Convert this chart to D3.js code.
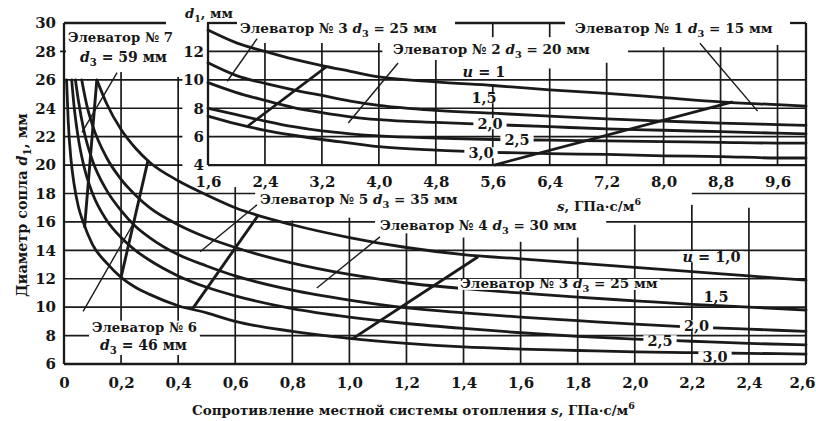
<!DOCTYPE html>
<html><head><meta charset="utf-8">
<script src="https://cdn.jsdelivr.net/npm/d3@7"></script>
<style>
body{margin:0;background:#fff}
svg{display:block;background:#fff}
text{font-family:"DejaVu Serif","Liberation Serif",serif;font-weight:bold;fill:#161616}
</style>
</head><body>
<svg id="c" width="816" height="421"></svg>
<script>
// ---------------- DATA ----------------
// Main chart: s (ГПа·с/м6) vs d1 (мм), one curve per mixing ratio u
const sU10 = [0.115,0.15,0.2,0.25,0.3,0.4,0.5,0.6,0.8,1.0,1.2,1.4,1.6,1.8,2.0,2.2,2.4,2.6];
const dU10 = [26.0,24.3,22.5,21.2,20.2,18.9,17.9,17.0,15.8,14.9,14.2,13.7,13.4,13.1,12.8,12.5,12.2,11.9];
const sU15 = [0.062,0.08,0.1,0.15,0.2,0.25,0.3,0.4,0.5,0.6,0.8,1.0,1.2,1.4,1.6,1.8,2.0,2.2,2.4,2.6];
const dU15 = [26.0,24.2,22.8,20.5,19.0,17.9,17.0,15.8,14.9,14.2,13.1,12.3,11.7,11.3,11.0,10.7,10.45,10.2,10.0,9.8];
const sU20 = [0.04,0.05,0.07,0.1,0.15,0.2,0.25,0.3,0.4,0.5,0.6,0.8,1.0,1.2,1.4,1.6,1.8,2.0,2.2,2.4,2.6];
const dU20 = [26.0,24.6,22.4,20.3,18.2,16.8,15.7,14.9,13.7,12.9,12.2,11.2,10.5,9.95,9.6,9.3,9.05,8.8,8.6,8.45,8.3];
const sU25 = [0.027,0.035,0.05,0.07,0.1,0.15,0.2,0.25,0.3,0.4,0.5,0.6,0.8,1.0,1.2,1.4,1.6,1.8,2.0,2.2,2.4,2.6];
const dU25 = [26.0,24.2,21.9,19.9,18.0,16.1,14.9,14.0,13.3,12.2,11.4,10.8,9.9,9.3,8.85,8.5,8.2,7.95,7.75,7.6,7.45,7.35];
const sU30 = [0.009,0.015,0.025,0.035,0.05,0.067,0.1,0.15,0.2,0.25,0.3,0.4,0.5,0.6,0.8,1.0,1.2,1.4,1.6,1.8,2.0,2.2,2.4,2.6];
const dU30 = [26.0,23.0,20.3,18.7,17.1,16.0,14.4,13.1,12.1,11.4,10.9,10.1,9.6,9.0,8.3,7.8,7.45,7.2,7.05,6.95,6.85,6.8,6.75,6.7];

// Inset chart (s from 1.6 to 10)
const sIn   = [1.6,2.0,2.4,2.8,3.2,3.6,4.0,4.8,5.6,6.4,7.2,8.0,8.8,9.6,10.0];
const dIn10 = [13.5,12.6,12.0,11.45,11.0,10.6,10.2,9.85,9.6,9.3,9.05,8.75,8.45,8.25,8.15];
const dIn15 = [11.2,10.3,9.75,9.3,8.9,8.5,8.2,7.85,7.65,7.45,7.25,7.1,6.95,6.85,6.8];
const dIn20 = [9.8,9.1,8.55,8.05,7.7,7.4,7.2,7.0,6.85,6.7,6.55,6.45,6.35,6.25,6.2];
const dIn25 = [8.0,7.55,7.1,6.7,6.4,6.2,6.05,5.9,5.8,5.75,5.7,5.65,5.6,5.55,5.55];
const dIn30 = [7.45,6.9,6.45,6.1,5.8,5.55,5.3,5.05,4.9,4.8,4.75,4.65,4.6,4.5,4.5];

// Elevator lines [s,d] end points (thick = working line, thin = pointer)
const elevThickMain  = [[[0.115,26.0],[0.072,15.6]],[[0.294,20.3],[0.200,12.1]],[[0.680,16.45],[0.449,9.85]],[[1.451,13.55],[1.009,7.75]]];
const elevThinMain   = [[[0.186,26.5],[0.063,22.3]],[[0.067,9.7],[0.249,16.1]],[[0.676,17.2],[0.477,13.9]],[[1.107,14.95],[0.886,11.35]]];
const elevThickInset = [[[2.16,6.75],[3.27,10.95]],[[5.62,4.0],[8.97,8.45]]];
const elevThinInset  = [[[1.87,9.9],[2.29,12.9]],[[3.57,6.96],[4.27,11.18]],[[8.51,12.58],[9.32,7.8]]];

// Ticks
const mainXTicks  = [0,0.2,0.4,0.6,0.8,1.0,1.2,1.4,1.6,1.8,2.0,2.2,2.4,2.6];
const mainYTicks  = [6,8,10,12,14,16,18,20,22,24,26,28,30];
const insetXTicks = [1.6,2.4,3.2,4.0,4.8,5.6,6.4,7.2,8.0,8.8,9.6];
const insetYTicks = [4,6,8,10,12];

// ---------------- SCALES ----------------
const svg = d3.select("#c");
const xM = d3.scaleLinear().domain([0,2.6]).range([64,806]);
const yM = d3.scaleLinear().domain([6,30]).range([364,23]);
const xI = d3.scaleLinear().domain([1.6,10]).range([208,806]);
const yI = d3.scaleLinear().domain([4,14]).range([yM(20), yM(30)]);
const INK = "#1a1a1a";

const gGrid = svg.append("g"), gCurve = svg.append("g"), gElev = svg.append("g"),
      gBorder = svg.append("g"), gLab = svg.append("g"), gAx = svg.append("g");

function hseg(g, y, x0, x1, w){ g.append("line").attr("x1",x0).attr("x2",x1).attr("y1",y).attr("y2",y).attr("stroke",INK).attr("stroke-width",w); }
function vseg(g, x, y0, y1, w){ g.append("line").attr("x1",x).attr("x2",x).attr("y1",y0).attr("y2",y1).attr("stroke",INK).attr("stroke-width",w); }

// ---------------- GRID ----------------
const GW = 1.7;
[8,10,12,14].forEach(d => hseg(gGrid, yM(d), xM(0), xM(2.6), GW));
hseg(gGrid, yM(16), xM(0), xM(1.09), GW); hseg(gGrid, yM(16), xM(1.9), xM(2.6), GW);
hseg(gGrid, yM(18), xM(0), xM(0.67), GW); hseg(gGrid, yM(18), xM(2.2), xM(2.6), GW);
[20,22,24,26].forEach(d => hseg(gGrid, yM(d), xM(0), xM(0.415), GW));
hseg(gGrid, yM(28), xM(0)-4, xM(0.02), GW);
const mainVTop = [26.55,26.2,18.45,16.1,16.3,15.2,14.9,14.6,14.9,15.8,17.2,17.0];
mainXTicks.slice(1,13).forEach((s,i) => vseg(gGrid, xM(s), yM(6), yM(mainVTop[i]), GW));
hseg(gGrid, yI(12), xI(1.6), xI(4.05), GW); hseg(gGrid, yI(12), xI(7.5), xI(10), GW);
[6,8,10].forEach(d => hseg(gGrid, yI(d), xI(1.6), xI(10), GW));
const insetVTop = [12.6,12.6,12.6,11.4,9.6,10.8,11.2,12.3,12.3,12.45];
insetXTicks.slice(1).forEach((s,i) => vseg(gGrid, xI(s), yI(4), yI(insetVTop[i]), GW));
vseg(gGrid, xI(5.6), yI(14), yI(13.0), GW);
vseg(gGrid, xI(6.4), yI(14), yI(13.0), GW);

// ---------------- CURVES ----------------
const lineM = d3.line().x(p=>xM(p[0])).y(p=>yM(p[1])).curve(d3.curveMonotoneX);
const lineI = d3.line().x(p=>xI(p[0])).y(p=>yI(p[1])).curve(d3.curveMonotoneX);
const mainCurves = [[sU10,dU10],[sU15,dU15],[sU20,dU20],[sU25,dU25],[sU30,dU30]];
mainCurves.forEach(([s,d]) => gCurve.append("path").attr("d", lineM(s.map((v,i)=>[v,d[i]])))
  .attr("fill","none").attr("stroke",INK).attr("stroke-width",2.8).attr("stroke-linecap","round"));
[dIn10,dIn15,dIn20,dIn25,dIn30].forEach(d => gCurve.append("path").attr("d", lineI(sIn.map((v,i)=>[v,d[i]])))
  .attr("fill","none").attr("stroke",INK).attr("stroke-width",2.8).attr("stroke-linecap","round"));

// ---------------- ELEVATOR LINES ----------------
const straightM = d3.line().x(p=>xM(p[0])).y(p=>yM(p[1]));
const straightI = d3.line().x(p=>xI(p[0])).y(p=>yI(p[1]));
elevThickMain.forEach(p => gElev.append("path").attr("d",straightM(p)).attr("stroke",INK).attr("stroke-width",2.9).attr("fill","none"));
elevThinMain.forEach(p => gElev.append("path").attr("d",straightM(p)).attr("stroke",INK).attr("stroke-width",1.4).attr("fill","none"));
elevThickInset.forEach(p => gElev.append("path").attr("d",straightI(p)).attr("stroke",INK).attr("stroke-width",2.7).attr("fill","none"));
elevThinInset.forEach(p => gElev.append("path").attr("d",straightI(p)).attr("stroke",INK).attr("stroke-width",1.4).attr("fill","none"));

// ---------------- BORDERS ----------------
const BW = 2.3;
vseg(gBorder, xM(0), yM(30), yM(6), BW);
hseg(gBorder, yM(6), xM(0), xM(2.6), BW);
vseg(gBorder, xM(2.6), yM(30), yM(6), BW);
[[64,166],[207,237],[455,565],[790,806]].forEach(([a,b]) => hseg(gBorder, yM(30), a, b, BW));
vseg(gBorder, xI(1.6), yM(30), yI(4), BW);
hseg(gBorder, yI(4), xI(1.6), xI(10), BW);

// ---------------- LABELS ----------------
// builds a text from parts; if opts.fixed, keeps size and centres it, otherwise fits x0..x1
function addText(parent, parts, x0, x1, yc, fs, opts={}) {
  const t = parent.append("text").attr("x", x0).attr("font-size", fs);
  let shift = 0;
  parts.forEach(p => {
    const ts = t.append("tspan").text(p.t);
    if (p.i) ts.attr("font-style","italic");
    if (p.sub) { ts.attr("dy", 4).attr("font-size","0.72em"); shift = 4; }
    else if (p.sup) { ts.attr("dy", -6).attr("font-size","0.7em"); shift = -6; }
    else if (shift) { ts.attr("dy", -shift); shift = 0; }
  });
  let f = fs;
  if (opts.fixed) {
    t.attr("x", (x0+x1)/2).attr("text-anchor","middle");
  } else {
    const w = t.node().getComputedTextLength();
    f = Math.min(fs * (x1 - x0) / w, opts.maxFs || 16);
  }
  t.attr("font-size", f).attr("y", yc + 0.36*f);
  return t;
}
function bg(parent, nodes, padX=2, padY=2) {
  let bx0=1e9, by0=1e9, bx1=-1e9, by1=-1e9;
  nodes.forEach(n => { const b = n.node().getBBox(); bx0=Math.min(bx0,b.x); by0=Math.min(by0,b.y); bx1=Math.max(bx1,b.x+b.width); by1=Math.max(by1,b.y+b.height); });
  parent.insert("rect", ":first-child").attr("x",bx0-padX).attr("y",by0+padY).attr("width",bx1-bx0+2*padX).attr("height",by1-by0-2*padY).attr("fill","#fff");
}
function label(parts, x0, x1, yc, fs, withBg=true, padX=2, padY=3, opts={}) {
  const g = gLab.append("g");
  const t = addText(g, parts, x0, x1, yc, fs, opts);
  if (withBg) bg(g, [t], padX, padY);
  return g;
}
const d3sub = n => [{t:"d",i:true},{t:"3",sub:true},{t:" = "+n+" мм"}];
const elevParts = (k,n) => [{t:"Элеватор № "+k+" "}].concat(d3sub(n));

{ const g = gLab.append("g");
  const a = addText(g, [{t:"Элеватор № 7"}], 68, 173, 37, 14);
  const b = addText(g, d3sub("59"), 80, 167, 57, 14);
  bg(g, [a,b], 2, 2); }
{ const g = gLab.append("g");
  const a = addText(g, [{t:"Элеватор № 6"}], 92, 197, 327, 14);
  const b = addText(g, d3sub("46"), 100, 187, 345, 14);
  bg(g, [a,b], 3, 1); }
label(elevParts(5,"35"), 260, 458, 199, 14);
label(elevParts(4,"30"), 380, 577, 225, 14);
label(elevParts(3,"25"), 460, 658, 283, 14, true, 2, 4);
label(elevParts(3,"25"), 240, 437, 28, 14, false);
label(elevParts(2,"20"), 393, 590, 49, 14);
label(elevParts(1,"15"), 575, 773, 28, 14, false);

const FX = {fixed:true};
label([{t:"u",i:true},{t:" = 1,0"}], 683, 740, 257, 14.5, true, 3, 3, FX);
label([{t:"1,5"}], 705, 727, 297, 14.5, true, 3, 3, FX);
label([{t:"2,0"}], 685, 708, 326, 14.5, true, 4, 3, FX);
label([{t:"2,5"}], 648, 672, 341, 14.5, true, 4, 3, FX);
label([{t:"3,0"}], 703, 727, 357, 14.5, true, 4, 3, FX);
label([{t:"u",i:true},{t:" = 1"}], 465, 503, 72, 14.5, true, 3, 3, FX);
label([{t:"1,5"}], 473, 495, 98, 14.5, true, 3, 3, FX);
label([{t:"2,0"}], 478, 502, 124, 14.5, true, 4, 3, FX);
label([{t:"2,5"}], 505, 529, 140, 14.5, true, 4, 3, FX);
label([{t:"3,0"}], 469, 493, 153, 14.5, true, 4, 3, FX);

label([{t:"d",i:true},{t:"1",sub:true},{t:", мм"}], 185, 233, 13, 14, false);
label([{t:"s",i:true},{t:", ГПа·с/м"},{t:"6",sup:true}], 557, 660, 206, 13, true, 2, 3, {maxFs:13.5});

label([{t:"Сопротивление местной системы отопления "},{t:"s",i:true},{t:", ГПа·с/м"},{t:"6",sup:true}], 192, 635, 410, 13.5, false);
{ const g = gLab.append("g").attr("transform","translate(22,205) rotate(-90)");
  addText(g, [{t:"Диаметр сопла "},{t:"d",i:true},{t:"1",sub:true},{t:", мм"}], -92, 92, 0, 14); }

// ---------------- AXES (tick labels) ----------------
const comma = v => v === 0 ? "0" : d3.format(".1f")(v).replace(".", ",");
function styleAxis(g){ g.select(".domain").remove(); g.selectAll("line").remove();
  g.selectAll("text").attr("font-size",15).attr("font-family",'"DejaVu Serif",serif').attr("font-weight","bold").attr("fill","#161616"); }
const axB = gAx.append("g").attr("transform","translate(0,364)")
  .call(d3.axisBottom(xM).tickValues(mainXTicks).tickFormat(comma).tickSize(0).tickPadding(13)).call(styleAxis);
axB.selectAll(".tick").filter(d => d === 2.6).select("text").attr("dx", -4);
gAx.append("g").attr("transform","translate(64,0)")
  .call(d3.axisLeft(yM).tickValues(mainYTicks).tickFormat(d3.format("d")).tickSize(0).tickPadding(8)).call(styleAxis);
gAx.append("g").attr("transform",`translate(0,${yI(4)})`)
  .call(d3.axisBottom(xI).tickValues(insetXTicks).tickFormat(comma).tickSize(0).tickPadding(11)).call(styleAxis);
gAx.append("g").attr("transform",`translate(${xI(1.6)},0)`)
  .call(d3.axisLeft(yI).tickValues(insetYTicks).tickFormat(d3.format("d")).tickSize(0).tickPadding(4)).call(styleAxis);
</script>
</body></html>
